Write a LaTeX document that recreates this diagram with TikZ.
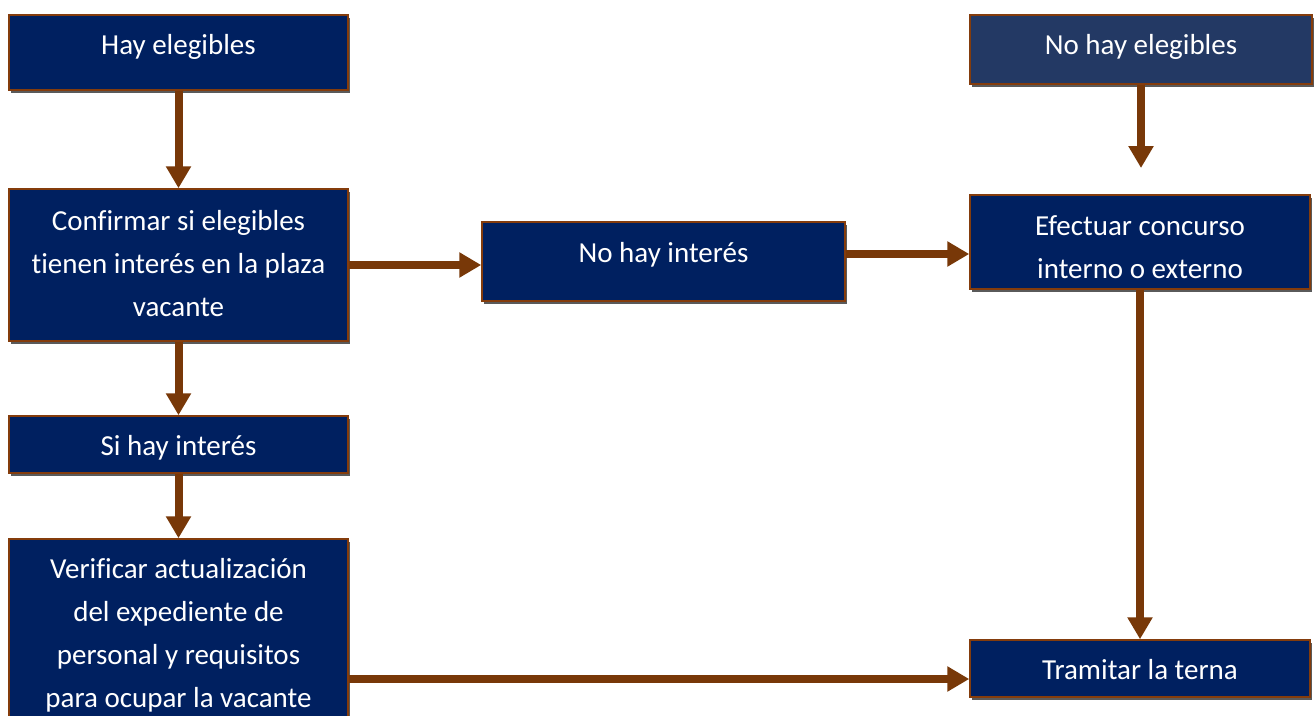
\documentclass[tikz,border=0pt]{standalone}
\usepackage{fontspec}
\setmainfont{Carlito}[Ligatures={NoCommon}]
\usetikzlibrary{arrows.meta,shadows,calc}
\definecolor{boxblue}{RGB}{0,32,96}
\definecolor{boxblue2}{RGB}{35,57,100}
\definecolor{brownline}{RGB}{132,60,12}
\definecolor{arrowbrown}{RGB}{120,56,8}
\definecolor{shadowgray}{RGB}{90,90,90}
\tikzset{
  fbox/.style={draw=brownline, line width=1.5pt, fill=boxblue, inner sep=0pt,
    drop shadow={shadow xshift=1.5pt, shadow yshift=-3pt, fill=shadowgray, opacity=1}},
  ftxt/.style={text=white, font=\fontsize{29}{43}\selectfont, align=center, inner sep=0pt},
  arr/.style={draw=arrowbrown, line width=8pt, -{Triangle[length=22pt,width=24pt]}},
}
\begin{document}
\begin{tikzpicture}[x=1pt,y=-1pt]
\useasboundingbox (0,0) rectangle (1314,715);
\clip (0,0) rectangle (1314,715);
% boxes
\node[fbox, minimum width=339pt, minimum height=75pt] (b1) at (178.5,52.5) {};
\node[fbox, minimum width=339pt, minimum height=152pt] (b2) at (178.5,265) {};
\node[fbox, minimum width=339pt, minimum height=57pt] (b3) at (178.5,444.5) {};
\node[fbox, minimum width=339pt, minimum height=220pt] (b4) at (178.5,649) {};
\node[fbox, minimum width=363pt, minimum height=79pt] (b5) at (663.5,261.5) {};
\node[fbox, fill=boxblue2, minimum width=342pt, minimum height=69pt] (b6) at (1141,49.5) {};
\node[fbox, minimum width=340pt, minimum height=94pt] (b7) at (1140,242) {};
\node[fbox, minimum width=340pt, minimum height=57pt] (b8) at (1140,668.5) {};
% texts
\node[ftxt, anchor=base] (t1) at (178.5,54) {Hay elegibles};
\node[ftxt] (t2) at (178.5,264) {Confirmar si elegibles\\tienen interés en la plaza\\vacante};
\node[ftxt, anchor=base] (t3) at (178.5,455) {Si hay interés};
\node[ftxt] (t4) at (178.5,635.5) {Verificar actualización\\del expediente de\\personal y requisitos\\para ocupar la vacante};
\node[ftxt, anchor=base] (t5) at (663.5,262) {No hay interés};
\node[ftxt, anchor=base] (t6) at (1141,54) {No hay elegibles};
\node[ftxt] (t7) at (1140,247) {Efectuar concurso\\interno o externo};
\node[ftxt, anchor=base] (t8) at (1140,679) {Tramitar la terna};
\coordinate (c6) at (1141,168);
% connectors
\draw[arr] (b1.south) -- (b2.north);
\draw[arr] (b2.south) -- (b3.north);
\draw[arr] (b3.south) -- (b4.north);
\draw[arr] (b2.east |- 0,265) -- (b5.west |- 0,265);
\draw[arr] (b5.east |- 0,254) -- (b7.west |- 0,254);
\draw[arr] (b6.south) -- (c6);
\draw[arr] (b7.south) -- (b8.north);
\draw[arr] (b4.east |- 0,679) -- (b8.west |- 0,679);
\end{tikzpicture}
\end{document}
